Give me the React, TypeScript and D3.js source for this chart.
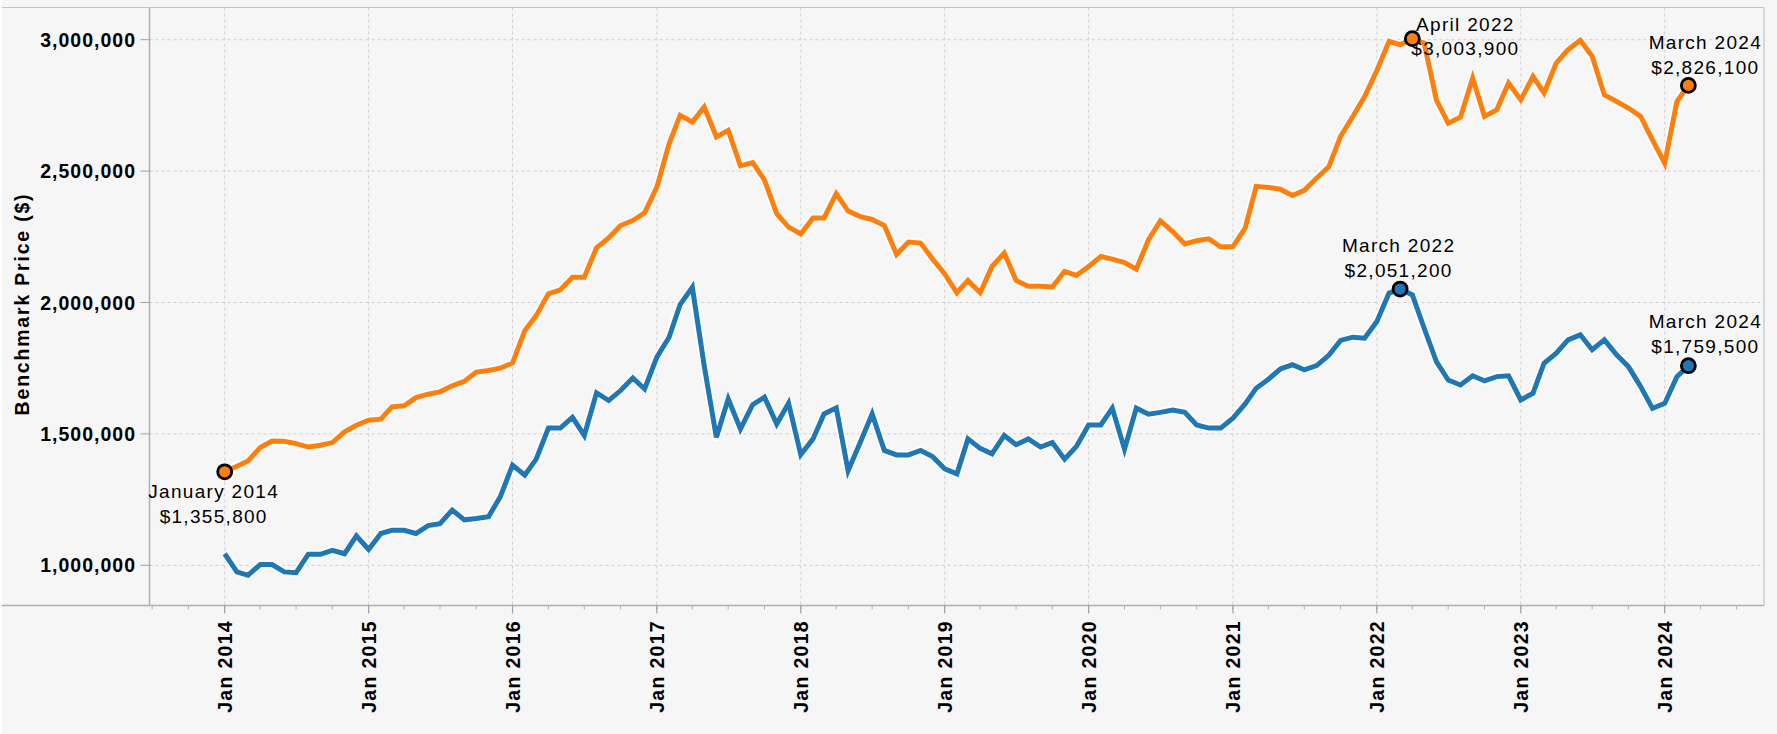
import React from 'react';
import * as d3 from 'd3';

// ---------- data ----------
const firstMonth = new Date(2014, 0, 1);
const lastMonth = new Date(2024, 2, 1);
const months: Date[] = d3.timeMonth.range(firstMonth, d3.timeMonth.offset(lastMonth, 1));

const orangeValues = [
  1355800, 1377000, 1397000, 1448000, 1473000, 1472000, 1463000, 1450000, 1457000, 1467000, 1508000, 1533000,
  1552000, 1556000, 1603000, 1607000, 1638000, 1651000, 1660000, 1683000, 1700000, 1735000, 1741000, 1750000,
  1770000, 1893000, 1950000, 2033000, 2048000, 2096000, 2096000, 2208000, 2246000, 2293000, 2312000, 2341000,
  2439000, 2604000, 2712000, 2687000, 2744000, 2630000, 2655000, 2520000, 2532000, 2466000, 2338000, 2287000,
  2261000, 2322000, 2322000, 2414000, 2348000, 2327000, 2316000, 2293000, 2183000, 2230000, 2226000, 2166000,
  2109000, 2037000, 2084000, 2037000, 2137000, 2188000, 2084000, 2062000, 2062000, 2059000, 2118000, 2103000,
  2137000, 2175000, 2165000, 2152000, 2127000, 2239000, 2311000, 2270000, 2223000, 2235000, 2242000, 2211000,
  2213000, 2283000, 2442000, 2438000, 2431000, 2407000, 2427000, 2473000, 2516000, 2632000, 2708000, 2784000,
  2883000, 2994000, 2981000, 3003900, 2987000, 2771000, 2682000, 2705000, 2854000, 2708000, 2733000, 2835000,
  2771000, 2860000, 2797000, 2911000, 2962000, 2998000, 2937000, 2790000, 2765000, 2740000, 2708000, 2619000,
  2530000, 2765000, 2826100,
];

const blueValues = [
  1044000, 975000, 962000, 1003000, 1003000, 975000, 972000, 1042000, 1042000, 1057000, 1044000, 1112000,
  1060000, 1121000, 1133000, 1133000, 1121000, 1151000, 1158000, 1210000, 1173000, 1178000, 1185000, 1261000,
  1381000, 1343000, 1404000, 1522000, 1522000, 1563000, 1494000, 1656000, 1627000, 1665000, 1713000, 1671000,
  1792000, 1868000, 1992000, 2058000, 1760000, 1487000, 1633000, 1519000, 1611000, 1640000, 1538000, 1617000,
  1421000, 1481000, 1576000, 1599000, 1360000, 1468000, 1576000, 1437000, 1420000, 1420000, 1437000, 1414000,
  1367000, 1348000, 1481000, 1445000, 1424000, 1494000, 1459000, 1481000, 1450000, 1467000, 1404000, 1452000,
  1534000, 1534000, 1598000, 1442000, 1598000, 1575000, 1582000, 1591000, 1582000, 1534000, 1522000, 1522000,
  1560000, 1614000, 1674000, 1708000, 1747000, 1763000, 1744000, 1760000, 1799000, 1856000, 1868000, 1864000,
  1928000, 2036000, 2051200, 2029000, 1902000, 1775000, 1705000, 1686000, 1721000, 1702000, 1718000, 1721000,
  1629000, 1655000, 1769000, 1807000, 1858000, 1877000, 1820000, 1858000, 1801000, 1756000, 1680000, 1597000,
  1616000, 1718000, 1759500,
];

const yTickValues = [1000000, 1500000, 2000000, 2500000, 3000000];
const yearTickYears = [2014, 2015, 2016, 2017, 2018, 2019, 2020, 2021, 2022, 2023, 2024];
const axisTitle = 'Benchmark Price ($)';

// annotated points: series, month index
const annotationSeries = ['orange', 'orange', 'orange', 'blue', 'blue'];
const annotationIndex = [0, 99, 122, 98, 122];

// ---------- layout / style ----------
const W = 1777;
const H = 734;
const plotLeft = 149.5;
const plotRight = 1764;
const plotTop = 7.5;
const plotBottom = 605.5;
const BG = '#f6f6f6';
const ORANGE = '#ff7f0e';
const BLUE = '#1f77b4';
const FONT = '"Liberation Sans", Arial, Helvetica, sans-serif';

// annotation text offsets relative to the point (dx, dy of first baseline)
const annotationOffsets = [
  { dx: -11, dy: 26.5 },
  { dx: 53, dy: -8 },
  { dx: 17, dy: -36 },
  { dx: -1.5, dy: -36.7 },
  { dx: 17, dy: -37.4 },
];
const lineGap = 24.4;

export default function App() {
  const xBase = d3.scaleTime().domain([new Date(2014, 0, 1), new Date(2024, 0, 1)]).range([224.7, 1664.7]);
  const x = d3.scaleTime().domain([xBase.invert(plotLeft), xBase.invert(plotRight)]).range([plotLeft, plotRight]);
  const y = d3.scaleLinear().domain([1000000, 3000000]).range([565.3, 39.7]);

  const line = d3
    .line<number>()
    .x((_, i) => x(months[i]))
    .y((d) => y(d));

  const seriesMap: Record<string, { values: number[]; color: string }> = {
    orange: { values: orangeValues, color: ORANGE },
    blue: { values: blueValues, color: BLUE },
  };

  const yearTicks = yearTickYears.map((yr) => new Date(yr, 0, 1));
  const quarterTicks = d3.timeMonth.every(3)!.range(x.domain()[0], x.domain()[1]);

  const fmtMoney = (v: number) => '$' + d3.format(',')(v);
  const fmtMonth = d3.timeFormat('%B %Y');
  const fmtTick = d3.timeFormat('%b %Y');

  return (
    <div style={{ position: 'absolute', left: 0, top: 0 }}>
      <svg width={W} height={H} style={{ display: 'block', fontFamily: FONT }}>
        <rect x={0} y={0} width={W} height={H} fill="#ffffff" />
        <rect x={2} y={0} width={W - 2} height={H} fill={BG} />

        {/* gridlines */}
        {yTickValues.map((v) => (
          <line key={'gy' + v} x1={plotLeft} x2={plotRight} y1={y(v)} y2={y(v)} stroke="#cfcfcf" strokeWidth={1} strokeDasharray="3,3" />
        ))}
        {yearTicks.map((d) => (
          <line key={'gx' + d.getTime()} x1={x(d)} x2={x(d)} y1={plotTop} y2={plotBottom} stroke="#cfcfcf" strokeWidth={1} strokeDasharray="3,3" />
        ))}

        {/* frame */}
        <line x1={2} x2={plotRight} y1={plotTop} y2={plotTop} stroke="#c4c4c4" strokeWidth={1.2} />
        <line x1={plotRight} x2={plotRight} y1={plotTop} y2={plotBottom} stroke="#c4c4c4" strokeWidth={1.2} />
        <line x1={plotLeft} x2={plotLeft} y1={plotTop} y2={plotBottom} stroke="#b0b0b0" strokeWidth={1.5} />
        <line x1={2} x2={plotRight} y1={plotBottom} y2={plotBottom} stroke="#b0b0b0" strokeWidth={1.5} />

        {/* y ticks + labels */}
        {yTickValues.map((v) => (
          <g key={'yt' + v}>
            <line x1={plotLeft - 9} x2={plotLeft} y1={y(v)} y2={y(v)} stroke="#a0a0a0" strokeWidth={1} />
            <text x={136} y={y(v)} dy="0.36em" textAnchor="end" fontSize={19.5} fontWeight="bold" letterSpacing={1.0} fill="#000">
              {d3.format(',')(v)}
            </text>
          </g>
        ))}

        {/* x ticks */}
        {quarterTicks.map((d) => (
          <line key={'qt' + d.getTime()} x1={x(d)} x2={x(d)} y1={plotBottom} y2={plotBottom + 4} stroke="#b0b0b0" strokeWidth={1} />
        ))}
        {yearTicks.map((d) => (
          <g key={'xt' + d.getTime()}>
            <line x1={x(d)} x2={x(d)} y1={plotBottom} y2={plotBottom + 8} stroke="#a0a0a0" strokeWidth={1.2} />
            <text
              transform={`translate(${x(d)},620) rotate(-90)`}
              dy="0.36em"
              textAnchor="end"
              fontSize={19.5}
              fontWeight="bold"
              letterSpacing={1.3}
              fill="#000"
            >
              {fmtTick(d)}
            </text>
          </g>
        ))}

        {/* axis title */}
        <text
          transform={`translate(22,304) rotate(-90)`}
          dy="0.36em"
          textAnchor="middle"
          fontSize={19.5}
          fontWeight="bold"
          letterSpacing={1.8}
          fill="#000"
        >
          {axisTitle}
        </text>

        {/* lines */}
        {['blue', 'orange'].map((k) => (
          <g key={'l' + k}>
            <path d={line(seriesMap[k].values) || ''} fill="none" stroke="#ffffff" strokeWidth={8.5} strokeLinejoin="round" />
            <path d={line(seriesMap[k].values) || ''} fill="none" stroke={seriesMap[k].color} strokeWidth={5} strokeLinejoin="miter" />
          </g>
        ))}

        {/* annotations */}
        {annotationSeries.map((s, j) => {
          const idx = annotationIndex[j];
          const v = seriesMap[s].values[idx];
          const px = x(months[idx]);
          const py = y(v);
          const off = annotationOffsets[j];
          return (
            <g key={'an' + j}>
              <text x={px + off.dx} y={py + off.dy} textAnchor="middle" fontSize={19} letterSpacing={1.3} fill="#000">
                {fmtMonth(months[idx])}
              </text>
              <text x={px + off.dx} y={py + off.dy + lineGap} textAnchor="middle" fontSize={19} letterSpacing={1.3} fill="#000">
                {fmtMoney(v)}
              </text>
            </g>
          );
        })}
        {annotationSeries.map((s, j) => {
          const idx = annotationIndex[j];
          const v = seriesMap[s].values[idx];
          return (
            <circle key={'c' + j} cx={x(months[idx])} cy={y(v)} r={7} fill={seriesMap[s].color} stroke="#000" strokeWidth={2.8} />
          );
        })}
      </svg>
    </div>
  );
}
